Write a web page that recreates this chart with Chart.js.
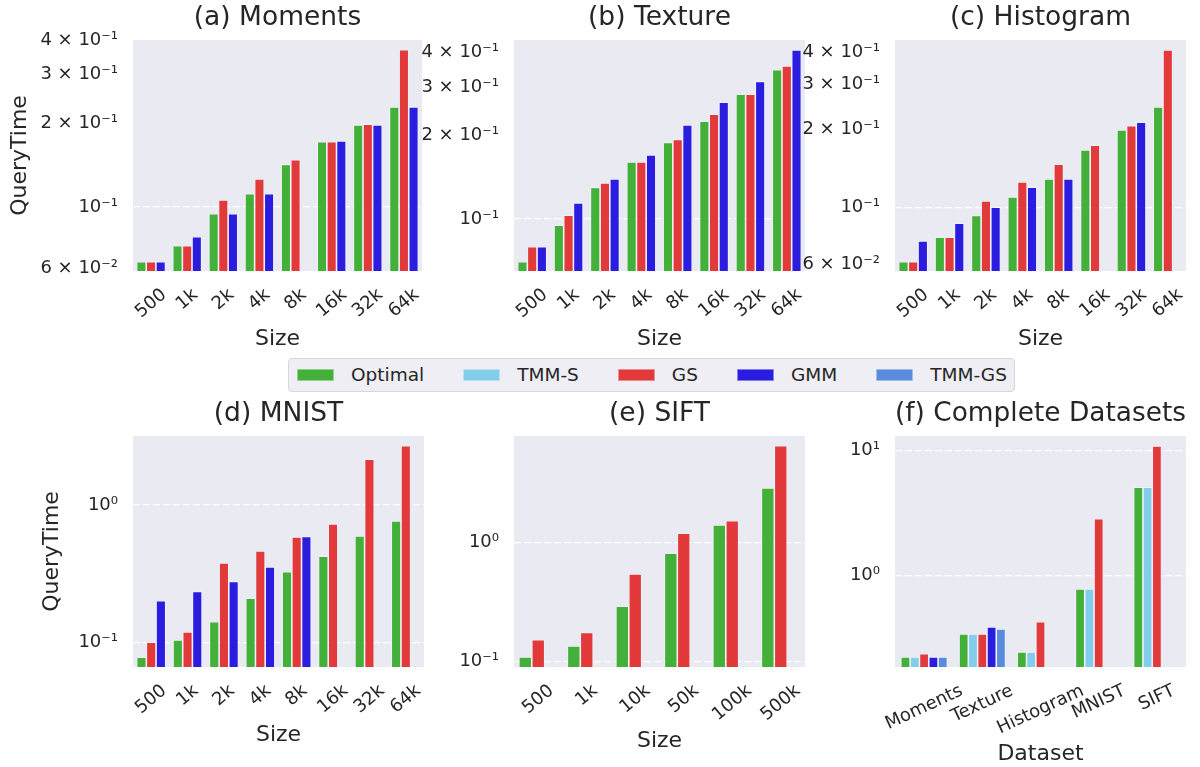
<!DOCTYPE html>
<html>
<head>
<meta charset="utf-8">
<title>QueryTime by dataset size</title>
<script src="https://cdn.jsdelivr.net/npm/chart.js@4.4.0/dist/chart.umd.min.js"></script>
<style>
  html, body { margin: 0; padding: 0; background: #ffffff; }
  #page { position: relative; width: 1200px; height: 767px; overflow: hidden; font-family: 'DejaVu Sans', sans-serif; }
  #page canvas { position: absolute; }
  #legend {
    position: absolute; left: 288px; top: 358px; height: 34px; box-sizing: border-box;
    display: flex; align-items: center; padding: 0 7px 0 8px;
    background: #eeeef4; border: 1px solid #d6d6dc; border-radius: 4px;
  }
  #legend .item { display: flex; align-items: center; margin-right: 39px; }
  #legend .item:last-child { margin-right: 0; }
  #legend .swatch { width: 37px; height: 12px; margin-right: 17px; box-shadow: inset 0 0 0 0.8px rgba(255,255,255,0.55); }
  #legend .name { font-size: 18.5px; color: #262626; line-height: 1; white-space: nowrap; }
</style>
</head>
<body>
<div id="page"><div id="legend"></div></div>
<script>
// ---- series and categories ----
const seriesNames  = ['Optimal', 'TMM-S', 'GS', 'GMM', 'TMM-GS'];
const seriesColors = ['#43b039', '#82cde9', '#e2393b', '#2b1ddf', '#5a8cdd'];

const sizeLabels     = ['500', '1k', '2k', '4k', '8k', '16k', '32k', '64k'];
const siftSizeLabels = ['500', '1k', '10k', '50k', '100k', '500k'];
const datasetLabels  = ['Moments', 'Texture', 'Histogram', 'MNIST', 'SIFT'];

// (a) Moments
const momentsOptimal = [0.0635, 0.0725, 0.0946, 0.1116, 0.1425, 0.1720, 0.1975, 0.2294];
const momentsGS      = [0.0635, 0.0725, 0.1060, 0.1262, 0.1480, 0.1720, 0.1990, 0.3690];
const momentsGMM     = [0.0635, 0.0781, 0.0946, 0.1116, null,   0.1730, 0.1975, 0.2294];

// (b) Texture
const textureOptimal = [0.0701, 0.0949, 0.1300, 0.1606, 0.1891, 0.2253, 0.2819, 0.3460];
const textureGS      = [0.0794, 0.1031, 0.1349, 0.1606, 0.1939, 0.2388, 0.2819, 0.3566];
const textureGMM     = [0.0794, 0.1142, 0.1394, 0.1702, 0.2184, 0.2638, 0.3140, 0.4074];

// (c) Histogram
const histogramOptimal = [0.0615, 0.0765, 0.0929, 0.1096, 0.1288, 0.1668, 0.1995, 0.2448];
const histogramGS      = [0.0615, 0.0765, 0.1058, 0.1254, 0.1470, 0.1740, 0.2073, 0.4070];
const histogramGMM     = [0.0740, 0.0867, 0.1000, 0.1195, 0.1288, null,   0.2136, null];

// (d) MNIST
const mnistOptimal = [0.0783, 0.1047, 0.142, 0.210, 0.328, 0.424, 0.595, 0.765];
const mnistGS      = [0.1007, 0.1196, 0.379, 0.463, 0.586, 0.728, 2.150, 2.700];
const mnistGMM     = [0.2018, 0.2360, 0.279, 0.355, 0.592, null,  null,  null];

// (e) SIFT
const siftOptimal = [0.1095, 0.1354, 0.291, 0.809, 1.396, 2.85];
const siftGS      = [0.1530, 0.1760, 0.543, 1.190, 1.517, 6.44];
const siftGMM     = [null, null, null, null, null, null];

// (f) Complete datasets
const completeOptimal = [0.224,  0.3417, 0.245,  0.7826, 5.10];
const completeTMMS    = [0.224,  0.3417, 0.245,  0.7826, 5.10];
const completeGS      = [0.2377, 0.3417, 0.4285, 2.858,  10.9];
const completeGMM     = [0.224,  0.3886, null,   null,   null];
const completeTMMGS   = [0.224,  0.3747, null,   null,   null];

// y tick marks
const fineTickValues  = [0.06, 0.1, 0.2, 0.3, 0.4];
const fineTickLabels  = ['6 × 10⁻²', '10⁻¹', '2 × 10⁻¹', '3 × 10⁻¹', '4 × 10⁻¹'];
const decadeTickValues = [0.1, 1, 10];
const decadeTickLabels = ['10⁻¹', '10⁰', '10¹'];

// ---- drawing ----
const TEXT = '#262626';
Chart.defaults.font.family = "'DejaVu Sans', sans-serif";
Chart.defaults.color = TEXT;

const colorOf = name => seriesColors[seriesNames.indexOf(name)];
const isDecade = v => Math.abs(Math.log10(v) - Math.round(Math.log10(v))) < 1e-9;

const plotBackground = {
  id: 'plotBackground',
  beforeDraw(chart) {
    const { ctx, chartArea: a } = chart;
    ctx.save();
    ctx.fillStyle = '#eaeaf2';
    ctx.fillRect(a.left, a.top, a.right - a.left, a.bottom - a.top);
    ctx.restore();
  }
};

// Rotated category labels centred on their tick, with the rotated box hanging below the axis.
function centreRotatedLabels(scale, degrees, gap) {
  if (scale.__centred) return;
  scale.__centred = true;
  const base = scale._computeLabelItems;
  scale._computeLabelItems = function (chartArea) {
    const items = base.call(this, chartArea);
    const th = degrees * Math.PI / 180;
    const ctx = this.ctx;
    items.forEach((item, i) => {
      ctx.save();
      ctx.font = item.font.string;
      const w = ctx.measureText(item.label).width;
      ctx.restore();
      const h = item.font.size * 1.164;
      const x = this.getPixelForTick(i);
      const y = this.top + gap + (w * Math.sin(th) + h * Math.cos(th)) / 2;
      item.options.translation = [x, y];
      item.options.rotation = -th;
      item.options.textAlign = 'center';
      item.options.textBaseline = 'middle';
      item.textOffset = 0;
    });
    return items;
  };
}

const panels = [
  { title: '(a) Moments', labels: sizeLabels,
    series: [['Optimal', momentsOptimal], ['GS', momentsGS], ['GMM', momentsGMM]],
    yTicks: fineTickValues, yTickLabels: fineTickLabels, min: 0.0588, max: 0.4,
    box: [0, 0, 442, 360], yWidth: 133, padRight: 20, xHeight: 89, titlePad: [2.6, 5.6],
    xTitle: 'Size', xTitlePad: 7.8, yTitlePad: 6.8, rotation: 40 },
  { title: '(b) Texture', labels: sizeLabels,
    series: [['Optimal', textureOptimal], ['GS', textureGS], ['GMM', textureGMM]],
    yTicks: fineTickValues, yTickLabels: fineTickLabels, min: 0.0649, max: 0.4428,
    box: [404, 0, 421, 360], yWidth: 110, padRight: 20, xHeight: 89, titlePad: [2.6, 5.6],
    xTitle: 'Size', xTitlePad: 7.8, yTitlePad: null, rotation: 40 },
  { title: '(c) Histogram', labels: sizeLabels,
    series: [['Optimal', histogramOptimal], ['GS', histogramGS], ['GMM', histogramGMM]],
    yTicks: fineTickValues, yTickLabels: fineTickLabels, min: 0.0566, max: 0.4451,
    box: [785, 0, 411, 360], yWidth: 110, padRight: 10, xHeight: 89, titlePad: [2.6, 5.6],
    xTitle: 'Size', xTitlePad: 7.8, yTitlePad: null, rotation: 40 },
  { title: '(d) MNIST', labels: sizeLabels,
    series: [['Optimal', mnistOptimal], ['GS', mnistGS], ['GMM', mnistGMM]],
    yTicks: decadeTickValues, yTickLabels: decadeTickLabels, min: 0.0666, max: 3.17,
    box: [0, 390, 434, 377], yWidth: 133, padRight: 10, xHeight: 100, titlePad: [8.1, 6.1],
    xTitle: 'Size', xTitlePad: 18.8, yTitlePad: 38.8, rotation: 40 },
  { title: '(e) SIFT', labels: siftSizeLabels,
    series: [['Optimal', siftOptimal], ['GS', siftGS], ['GMM', siftGMM]],
    yTicks: decadeTickValues, yTickLabels: decadeTickLabels, min: 0.0903, max: 7.77,
    box: [404, 390, 411, 377], yWidth: 110, padRight: 10, xHeight: 100, titlePad: [8.1, 6.1],
    xTitle: 'Size', xTitlePad: 12.1, yTitlePad: null, rotation: 40 },
  { title: '(f) Complete Datasets', labels: datasetLabels,
    series: [['Optimal', completeOptimal], ['TMM-S', completeTMMS], ['GS', completeGS],
             ['GMM', completeGMM], ['TMM-GS', completeTMMGS]],
    yTicks: decadeTickValues, yTickLabels: decadeTickLabels, min: 0.186, max: 13.11,
    box: [785, 390, 411, 377], yWidth: 110, padRight: 10, xHeight: 100, titlePad: [8.1, 6.1],
    xTitle: 'Dataset', xTitlePad: 0, yTitlePad: null, rotation: 25 }
];

const page = document.getElementById('page');

function drawPanel(p) {
  const [bx, by, bw, bh] = p.box;
  const canvas = document.createElement('canvas');
  canvas.width = bw; canvas.height = bh;
  canvas.style.left = bx + 'px'; canvas.style.top = by + 'px';
  canvas.style.width = bw + 'px'; canvas.style.height = bh + 'px';
  page.appendChild(canvas);

  new Chart(canvas, {
    type: 'bar',
    data: {
      labels: p.labels,
      datasets: p.series.map(([name, values]) => ({
        label: name,
        data: values,
        backgroundColor: colorOf(name),
        borderColor: 'rgba(255,255,255,0.55)',
        borderWidth: 0.8,
        categoryPercentage: 0.8,
        barPercentage: 1.0
      }))
    },
    options: {
      responsive: false,
      animation: false,
      devicePixelRatio: 1,
      layout: { padding: { left: 0, top: 0, right: p.padRight, bottom: 0 } },
      plugins: {
        legend: { display: false },
        tooltip: { enabled: false },
        title: {
          display: true, text: p.title, fullSize: false, color: TEXT,
          font: { size: 26.5, weight: 'normal' },
          padding: { top: p.titlePad[0], bottom: p.titlePad[1] }
        }
      },
      scales: {
        x: {
          type: 'category',
          offset: true,
          grid: { display: false },
          border: { display: false },
          ticks: { autoSkip: false, minRotation: 0, maxRotation: 0, padding: 0, color: TEXT, font: { size: 18 } },
          afterFit: s => { s.height = p.xHeight; centreRotatedLabels(s, p.rotation, 13.5); },
          title: {
            display: true, text: p.xTitle, color: TEXT, font: { size: 22 },
            padding: { top: 0, bottom: p.xTitlePad }
          }
        },
        y: {
          type: 'logarithmic',
          min: p.min,
          max: p.max,
          afterFit: s => { s.width = p.yWidth; },
          afterBuildTicks: s => {
            s.ticks = p.yTicks.filter(v => v >= p.min && v <= p.max).map(v => ({ value: v }));
          },
          ticks: {
            autoSkip: false, padding: 15, color: TEXT, font: { size: 18 },
            callback: v => p.yTickLabels[p.yTicks.indexOf(v)]
          },
          grid: {
            drawTicks: false,
            lineWidth: 1.3,
            color: c => (c.tick && isDecade(c.tick.value)) ? '#ffffff' : 'rgba(0,0,0,0)'
          },
          border: { display: false, dash: [7, 3] },
          title: p.yTitlePad === null ? { display: false } : {
            display: true, text: 'QueryTime', color: TEXT, font: { size: 22 },
            padding: { top: p.yTitlePad, bottom: 0 }
          }
        }
      }
    },
    plugins: [plotBackground]
  });
}

panels.forEach(drawPanel);

// shared legend
const legend = document.getElementById('legend');
seriesNames.forEach((name, i) => {
  const item = document.createElement('div');
  item.className = 'item';
  const sw = document.createElement('div');
  sw.className = 'swatch';
  sw.style.background = seriesColors[i];
  const label = document.createElement('span');
  label.className = 'name';
  label.textContent = name;
  item.appendChild(sw);
  item.appendChild(label);
  legend.appendChild(item);
});
</script>
</body>
</html>
